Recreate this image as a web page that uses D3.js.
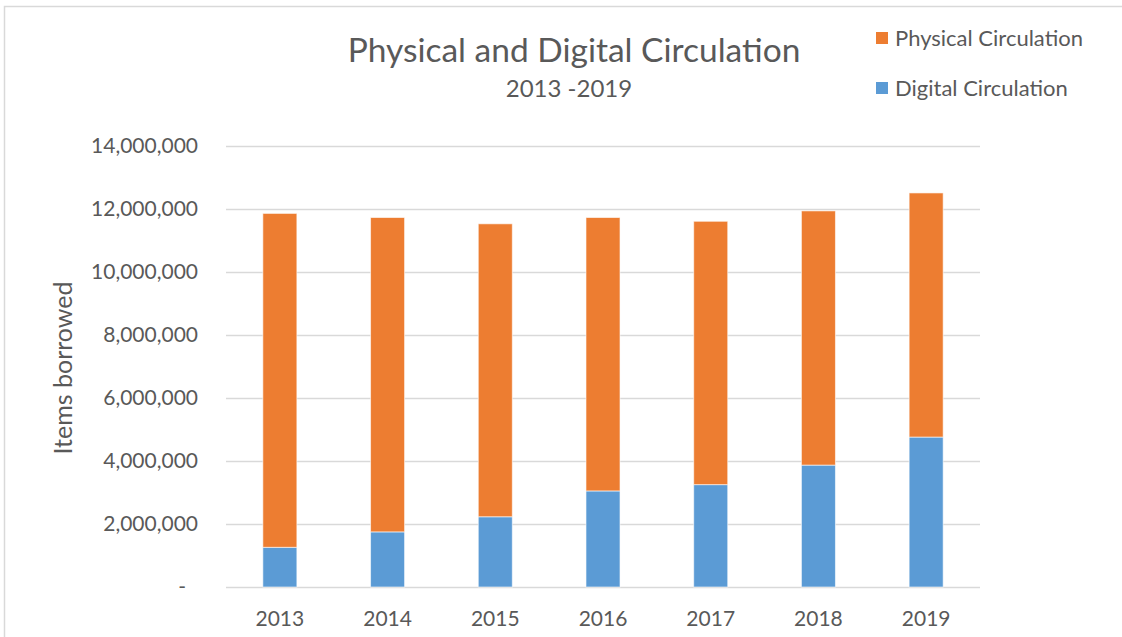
<!DOCTYPE html>
<html>
<head>
<meta charset="utf-8">
<script src="https://cdn.jsdelivr.net/npm/d3@7"></script>
<style>
  body { margin: 0; background: #fff; }
  svg text { font-family: Lato, "Open Sans", sans-serif; fill: #595959; }
</style>
</head>
<body>
<svg id="chart" width="1122" height="637"></svg>
<script>
// values
const years = ['2013', '2014', '2015', '2016', '2017', '2018', '2019'];
const digital = [1260000, 1750000, 2230000, 3050000, 3250000, 3870000, 4760000];
const physical = [10600000, 9980000, 9300000, 8680000, 8360000, 8070000, 7750000];
const yTicks = [0, 2000000, 4000000, 6000000, 8000000, 10000000, 12000000, 14000000];
const seriesNames = ['Physical Circulation', 'Digital Circulation'];
const colors = { 'Digital Circulation': '#5B9BD5', 'Physical Circulation': '#ED7D31' };

const width = 1122, height = 637;
const margins = { left: 226, right: 142, top: 146, bottom: 50 };

const vis = d3.select('#chart');

// outer chart border (light grey, Excel style)
vis.append('rect')
  .attr('x', 4.5).attr('y', 6.5)
  .attr('width', width).attr('height', height)
  .attr('fill', 'none')
  .attr('stroke', '#D9D9D9')
  .attr('stroke-width', 1.5);

const xScale = d3.scaleBand()
    .domain(years)
    .range([margins.left, width - margins.right])
    .paddingInner(0.684)
    .paddingOuter(0.342),
  yScale = d3.scaleLinear()
    .domain([0, 14000000])
    .range([height - margins.bottom, margins.top]);

// gridlines
vis.append('g')
  .selectAll('line')
  .data(yTicks)
  .join('line')
  .attr('x1', margins.left)
  .attr('x2', width - margins.right)
  .attr('y1', d => Math.round(yScale(d)) + 0.5)
  .attr('y2', d => Math.round(yScale(d)) + 0.5)
  .attr('stroke', '#D9D9D9')
  .attr('stroke-width', 1.3);

// y axis labels
const yAxis = d3.axisLeft(yScale)
  .tickValues(yTicks)
  .tickSize(0)
  .tickPadding(0)
  .tickFormat(d => d === 0 ? '-' : d3.format(',')(d));

const yG = vis.append('g')
  .attr('transform', 'translate(' + 198 + ',0)')
  .call(yAxis);
yG.select('.domain').remove();
yG.selectAll('text')
  .style('font-size', '21px')
  .attr('fill', '#595959')
  .attr('dx', d => d === 0 ? -12 : 0);

// x axis labels
const xAxis = d3.axisBottom(xScale).tickSize(0).tickPadding(0);
const xG = vis.append('g')
  .attr('transform', 'translate(0,' + (height - margins.bottom) + ')')
  .call(xAxis);
xG.select('.domain').remove();
xG.selectAll('text')
  .style('font-size', '21px')
  .attr('fill', '#595959')
  .attr('dy', 0)
  .attr('y', 39);

// stacked bars
const rows = years.map((y, i) => ({ year: y, 'Digital Circulation': digital[i], 'Physical Circulation': physical[i] }));
const stack = d3.stack().keys(['Digital Circulation', 'Physical Circulation'])(rows);

vis.append('g')
  .selectAll('g')
  .data(stack)
  .join('g')
  .attr('fill', d => colors[d.key])
  .selectAll('rect')
  .data(d => d)
  .join('rect')
  .attr('x', d => xScale(d.data.year))
  .attr('width', xScale.bandwidth())
  .attr('y', d => yScale(d[1]))
  .attr('height', d => yScale(d[0]) - yScale(d[1]))
  .attr('stroke', '#ffffff')
  .attr('stroke-opacity', 0.6)
  .attr('stroke-width', 1);

// title
vis.append('text')
  .attr('x', 574).attr('y', 62)
  .style('text-anchor', 'middle')
  .style('font-size', '33.5px')
  .text('Physical and Digital Circulation');

vis.append('text')
  .attr('x', 569).attr('y', 97)
  .style('text-anchor', 'middle')
  .style('font-size', '24px')
  .text('2013 -2019');

// y axis title
vis.append('text')
  .attr('transform', 'translate(72,' + 368 + ') rotate(-90)')
  .style('text-anchor', 'middle')
  .style('font-size', '25px')
  .text('Items borrowed');

// legend
const legend = vis.append('g')
  .selectAll('g')
  .data(seriesNames)
  .join('g')
  .attr('transform', (d, i) => 'translate(876,' + (32 + i * 50) + ')');

legend.append('rect')
  .attr('width', 12).attr('height', 12)
  .attr('fill', d => colors[d]);

legend.append('text')
  .attr('x', 19).attr('y', 14)
  .style('font-size', '22px')
  .text(d => d);
</script>
</body>
</html>
